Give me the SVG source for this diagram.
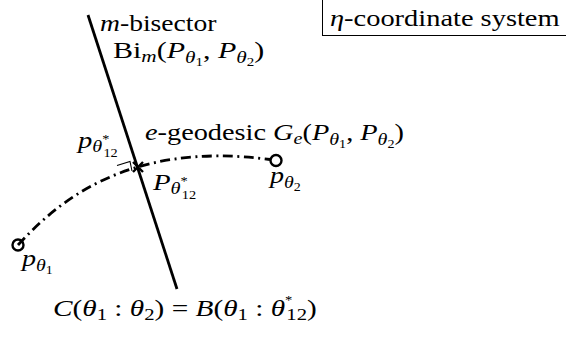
<svg xmlns="http://www.w3.org/2000/svg" width="566" height="337" viewBox="0 0 566 337">
<defs>
<style>
.ln{fill:none;stroke:#000;stroke-width:2.8}
.pt{fill:none;stroke:#000;stroke-width:2.4}
</style>
</defs>
<rect width="566" height="337" fill="#fff"/>
<g id="connectors">
<line class="ln" x1="88" y1="15" x2="177" y2="289"/>
<path class="ln" d="M18,245 C55,205 125,140 270,159.5" stroke-dasharray="10 4.5 2 4.5"/>
<path fill="none" stroke="#000" stroke-width="1.1" d="M117,165.5 L130,161.5 L132,171"/>
</g>
<g id="box">
<rect x="322.5" y="-2" width="250" height="37.5" fill="#fff" stroke="#000" stroke-width="1"/>
<text font-family="Liberation Serif" font-size="24" transform="matrix(1.185 0 0 1 330 26)"><tspan font-style="italic">η</tspan>-coordinate system</text>
</g>
<g id="bisector-label">
<text font-family="Liberation Serif" font-size="24" transform="matrix(1.15 0 0 1 100 31)"><tspan font-style="italic">m</tspan>-bisector</text>
<text font-family="Liberation Serif" font-size="24" transform="matrix(1.25 0 0 1 113 58)">Bi<tspan font-style="italic" font-size="17" dy="4">m</tspan><tspan dy="-4">(</tspan><tspan font-style="italic">P</tspan><tspan font-style="italic" font-size="17" dy="5">θ</tspan><tspan font-size="12" dy="3">1</tspan><tspan dy="-8">, </tspan><tspan font-style="italic">P</tspan><tspan font-style="italic" font-size="17" dy="5">θ</tspan><tspan font-size="12" dy="3">2</tspan><tspan dy="-8">)</tspan></text>
</g>
<g id="geodesic-label">
<text font-family="Liberation Serif" font-size="24" transform="matrix(1.18 0 0 1 145 140)"><tspan font-style="italic">e</tspan>-geodesic <tspan font-style="italic">G</tspan><tspan font-style="italic" font-size="17" dy="4">e</tspan><tspan dy="-4">(</tspan><tspan font-style="italic">P</tspan><tspan font-style="italic" font-size="17" dy="5">θ</tspan><tspan font-size="12" dy="3">1</tspan><tspan dy="-8">, </tspan><tspan font-style="italic">P</tspan><tspan font-style="italic" font-size="17" dy="5">θ</tspan><tspan font-size="12" dy="3">2</tspan><tspan dy="-8">)</tspan></text>
</g>
<g id="p1">
<circle class="pt" cx="18" cy="245" r="5.5"/>
<text font-family="Liberation Serif" font-size="24" transform="matrix(1.17 0 0 1 22 266)"><tspan font-style="italic">p</tspan><tspan font-style="italic" font-size="17" dy="5">θ</tspan><tspan font-size="12" dy="3">1</tspan></text>
</g>
<g id="p2">
<circle class="pt" cx="276" cy="160.5" r="5.5"/>
<text font-family="Liberation Serif" font-size="24" transform="matrix(1.17 0 0 1 270 183)"><tspan font-style="italic">p</tspan><tspan font-style="italic" font-size="17" dy="5">θ</tspan><tspan font-size="12" dy="3">2</tspan></text>
</g>
<g id="intersection">
<path fill="none" stroke="#000" stroke-width="2.4" d="M133,162 L143,172 M133,172 L143,162"/>
<text font-family="Liberation Serif" font-size="24" transform="matrix(1.19 0 0 1 78 148)"><tspan font-style="italic">p</tspan><tspan font-style="italic" font-size="17" dy="4">θ</tspan><tspan font-size="12" dy="-9">*</tspan><tspan font-size="12" dx="-5" dy="14">12</tspan></text>
<text font-family="Liberation Serif" font-size="24" transform="matrix(1.2 0 0 1 153 190)"><tspan font-style="italic">P</tspan><tspan font-style="italic" font-size="17" dy="4">θ</tspan><tspan font-size="12" dy="-9">*</tspan><tspan font-size="12" dx="-5" dy="14">12</tspan></text>
</g>
<g id="formula">
<text font-family="Liberation Serif" font-size="24" transform="matrix(1.22 0 0 1 53 316)"><tspan font-style="italic">C</tspan>(<tspan font-style="italic">θ</tspan><tspan font-size="17" dy="4">1</tspan><tspan dy="-4"> : </tspan><tspan font-style="italic">θ</tspan><tspan font-size="17" dy="4">2</tspan><tspan dy="-4">) = </tspan><tspan font-style="italic">B</tspan>(<tspan font-style="italic">θ</tspan><tspan font-size="17" dy="4">1</tspan><tspan dy="-4"> : </tspan><tspan font-style="italic">θ</tspan><tspan font-size="12" dy="-12">*</tspan><tspan font-size="17" dx="-5" dy="16">12</tspan><tspan dy="-4">)</tspan></text>
</g>
</svg>
